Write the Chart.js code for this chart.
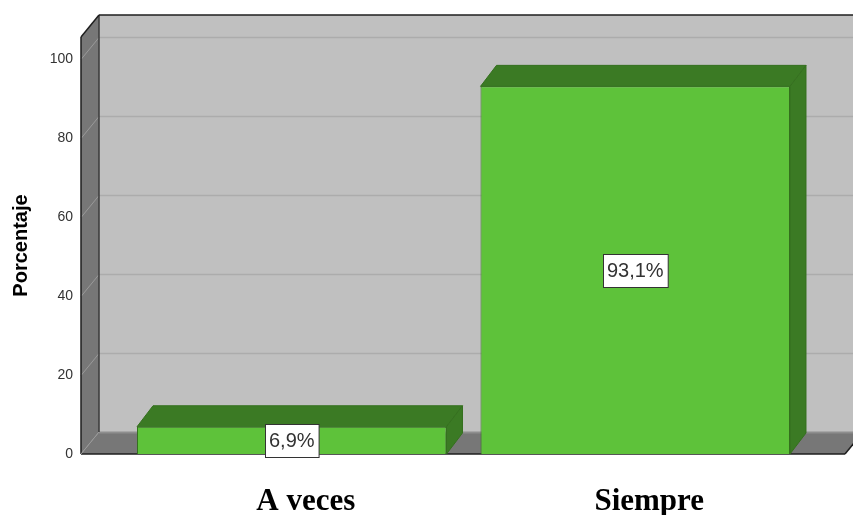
<!DOCTYPE html>
<html lang="es">
<head>
<meta charset="utf-8">
<title>Porcentaje</title>
<script src="https://cdn.jsdelivr.net/npm/chart.js@4/dist/chart.umd.min.js"></script>
<style>
    html, body { margin: 0; padding: 0; background: #fff; }
    #wrap { width: 853px; height: 515px; position: relative; }
</style>
</head>
<body>
<div id="wrap"><canvas id="chartPorcentaje"></canvas></div>
<script>
// -------------------------------------------------------
// Data
// -------------------------------------------------------
const categories  = ['A veces', 'Siempre'];
const percentages = [6.9, 93.1];
const yTickValues = [0, 20, 40, 60, 80, 100];
const yMax = 105.6;

// -------------------------------------------------------
// Look of the 3D box (walls + bars)
// -------------------------------------------------------
const WALL = {
    depthX: 18, depthY: 22,     // back wall offset
    padLeft: 39, padRight: 38,  // floor wider than the category area
    back: '#c0c0c0', side: '#777777',
    grid: '#acacac', sideGrid: '#9a9a9a', edge: '#1e1e1e'
};
const BAR = {
    depthX: 16, depthY: 21,
    front: '#5ec23a', dark: '#3b7a24', outline: '#35701f'
};

const fmtPct = v => v.toFixed(1).replace('.', ',') + '%';

function poly(ctx, pts, fill, stroke, lw) {
    ctx.beginPath();
    ctx.moveTo(pts[0][0], pts[0][1]);
    for (let i = 1; i < pts.length; i++) ctx.lineTo(pts[i][0], pts[i][1]);
    ctx.closePath();
    if (fill) { ctx.fillStyle = fill; ctx.fill(); }
    if (stroke) { ctx.strokeStyle = stroke; ctx.lineWidth = lw || 1; ctx.stroke(); }
}

function line(ctx, x1, y1, x2, y2, color, lw) {
    ctx.beginPath();
    ctx.moveTo(x1, y1);
    ctx.lineTo(x2, y2);
    ctx.strokeStyle = color;
    ctx.lineWidth = lw || 1;
    ctx.stroke();
}

// Back wall, left wall and floor, with gridlines
const wallsPlugin = {
    id: 'walls3d',
    beforeDraw(chart) {
        const { ctx, chartArea: ca, scales: { y } } = chart;
        const dx = WALL.depthX, dy = WALL.depthY;
        const L = ca.left - WALL.padLeft, R = ca.right + WALL.padRight;
        const T = ca.top, B = ca.bottom;

        ctx.save();
        ctx.fillStyle = '#ffffff';
        ctx.fillRect(0, 0, chart.width, chart.height);

        // back wall
        poly(ctx, [[L + dx, T - dy], [R + dx, T - dy], [R + dx, B - dy], [L + dx, B - dy]], WALL.back);
        // left wall
        poly(ctx, [[L, T], [L + dx, T - dy], [L + dx, B - dy], [L, B]], WALL.side);
        // floor
        poly(ctx, [[L, B], [L + dx, B - dy], [R + dx, B - dy], [R, B]], WALL.side);

        // gridlines
        yTickValues.forEach(v => {
            const py = Math.round(y.getPixelForValue(v)) + 0.5;
            if (v === 0) {
                line(ctx, L + dx, py - dy, R + dx, py - dy, '#8e8e8e', 2);
                return;
            }
            line(ctx, L + dx, py - dy, R + dx, py - dy, WALL.grid, 1.5);
            line(ctx, L, py, L + dx, py - dy, WALL.sideGrid, 1);
        });

        // edges
        line(ctx, L + dx, T - dy, L + dx, B - dy, '#3a3a3a', 1.5);
        line(ctx, L + dx, T - dy, R + dx, T - dy, WALL.edge, 1.5);
        line(ctx, L, T, L + dx, T - dy, WALL.edge, 1.5);
        line(ctx, L, T, L, B, WALL.edge, 1.5);
        line(ctx, L, B, R, B, WALL.edge, 1.5);
        line(ctx, R, B, R + dx, B - dy, WALL.edge, 1.5);
        line(ctx, L, B, L + dx, B - dy, '#9a9a9a', 1);
        ctx.restore();
    }
};

// Top and side faces of each bar, then the value boxes
const barsPlugin = {
    id: 'bars3d',
    afterDatasetsDraw(chart) {
        const { ctx } = chart;
        const meta = chart.getDatasetMeta(0);
        const ds = chart.data.datasets[0].data;
        const dx = BAR.depthX, dy = BAR.depthY;

        ctx.save();
        meta.data.forEach(bar => {
            const { x, y, base, width } = bar.getProps(['x', 'y', 'base', 'width'], true);
            const l = x - width / 2, r = x + width / 2;
            poly(ctx, [[l, y], [l + dx, y - dy], [r + dx, y - dy], [r, y]], BAR.dark, BAR.outline, 1);
            poly(ctx, [[r, y], [r + dx, y - dy], [r + dx, base - dy], [r, base]], BAR.dark, BAR.outline, 1);
        });

        ctx.font = '20px "Liberation Sans", Arial, sans-serif';
        ctx.textAlign = 'center';
        ctx.textBaseline = 'middle';
        meta.data.forEach((bar, i) => {
            const { x, y, base } = bar.getProps(['x', 'y', 'base'], true);
            const txt = fmtPct(ds[i]);
            const cy = (y + base) / 2;
            const w = ctx.measureText(txt).width + 8;
            const h = 33;
            const bx = Math.round(x - w / 2) + 0.5, by = Math.round(cy - h / 2) + 0.5;
            ctx.fillStyle = '#ffffff';
            ctx.fillRect(bx, by, w, h);
            ctx.strokeStyle = '#333333';
            ctx.lineWidth = 1;
            ctx.strokeRect(bx, by, w, h);
            ctx.fillStyle = '#333333';
            ctx.fillText(txt, x, cy + 1);
        });
        ctx.restore();
    }
};

const canvas = document.getElementById('chartPorcentaje');
new Chart(canvas.getContext('2d'), {
    type: 'bar',
    data: {
        labels: categories,
        datasets: [{
            label: 'Porcentaje',
            data: percentages,
            backgroundColor: BAR.front,
            borderColor: BAR.outline,
            borderWidth: 1,
            categoryPercentage: 0.901,
            barPercentage: 1
        }]
    },
    options: {
        responsive: true,
        maintainAspectRatio: false,
        animation: false,
        layout: { padding: { left: 0, top: 37, right: 46, bottom: 0 } },
        plugins: {
            legend: { display: false },
            tooltip: { enabled: false }
        },
        scales: {
            x: {
                grid: { display: false },
                border: { display: false },
                afterFit: s => { s.height = 61; },
                ticks: {
                    padding: 21,
                    labelOffset: 14,
                    color: '#000',
                    font: { family: '"Liberation Serif", "Times New Roman", serif', size: 31, weight: 'bold' }
                }
            },
            y: {
                min: 0,
                max: yMax,
                grid: { display: false },
                border: { display: false },
                afterBuildTicks: s => { s.ticks = yTickValues.map(v => ({ value: v })); },
                afterFit: s => {
                    // labels sit well left of the plot; keep that gap out of the top/bottom padding
                    s.width = 120;
                    s.paddingTop = 0;
                    s.paddingBottom = 0;
                },
                ticks: {
                    padding: 39,
                    color: '#333',
                    font: { family: '"Liberation Sans", Arial, sans-serif', size: 14 }
                },
                title: {
                    display: true,
                    text: 'Porcentaje',
                    color: '#000',
                    padding: { top: 9, bottom: 0 },
                    font: { family: '"Liberation Sans", Arial, sans-serif', size: 20, weight: 'bold' }
                }
            }
        }
    },
    plugins: [wallsPlugin, barsPlugin]
});
</script>
</body>
</html>
